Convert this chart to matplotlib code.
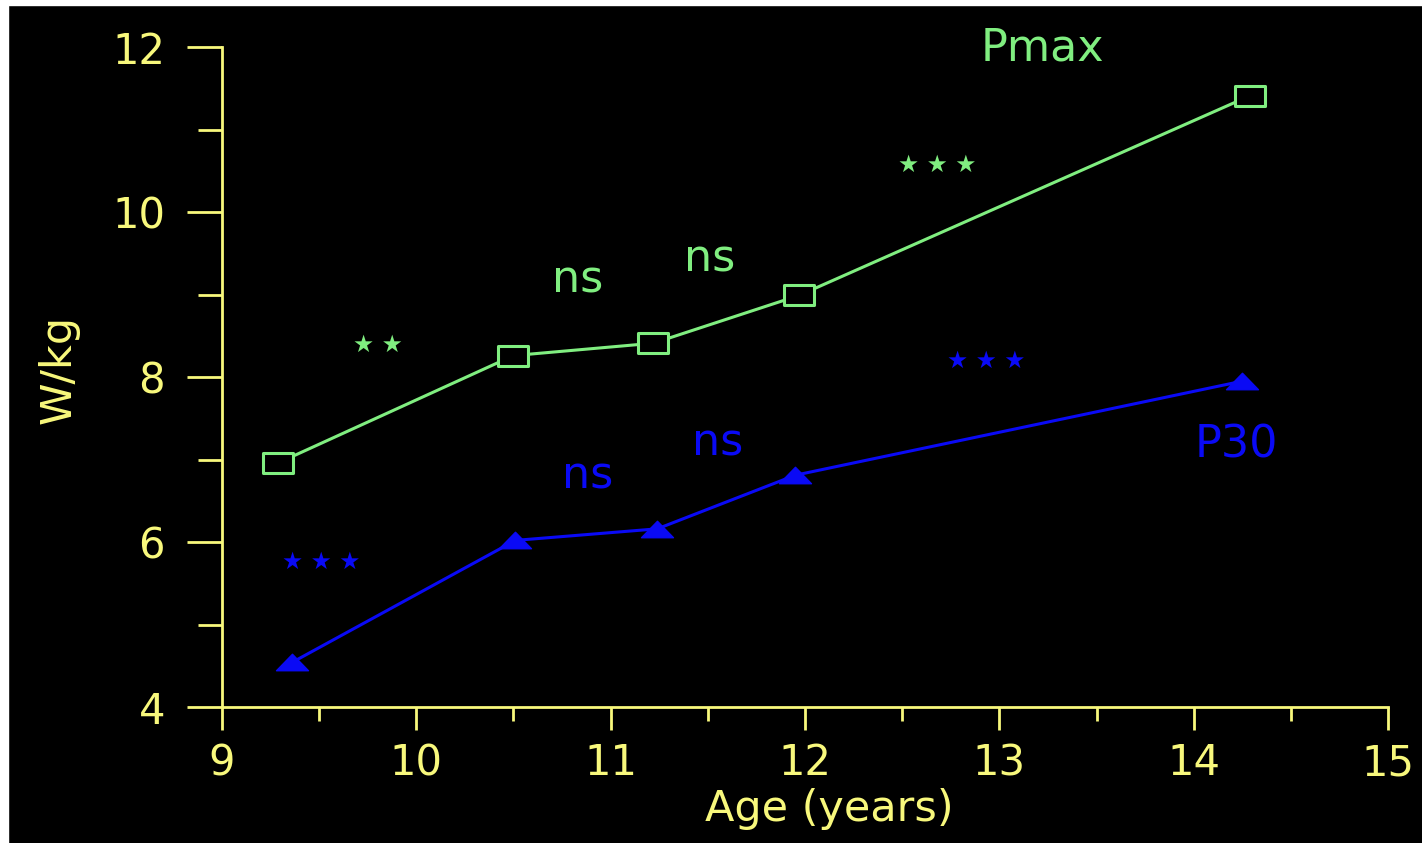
import matplotlib
matplotlib.use("Agg")
import matplotlib.pyplot as plt
from matplotlib.path import Path
from matplotlib.patches import Rectangle
from matplotlib.ticker import MultipleLocator

# mean power per body mass for each age group
pmax_age = [9.29, 10.50, 11.22, 11.97, 14.29]
pmax_wkg = [6.96, 8.26, 8.41, 8.99, 11.41]
p30_age = [9.36, 10.51, 11.24, 11.95, 14.25]
p30_wkg = [4.54, 6.02, 6.16, 6.81, 7.95]

# significance between consecutive groups: (label, x, baseline y)
pmax_sig = [("★ ★", 9.80, 8.30), ("ns", 10.83, 9.02), ("ns", 11.51, 9.28), ("★ ★ ★", 12.68, 10.49)]
p30_sig = [("★ ★ ★", 9.51, 5.68), ("ns", 10.88, 6.65), ("ns", 11.55, 7.05), ("★ ★ ★", 12.93, 8.11)]

YELLOW = "#f8f87c"
GREEN = "#80ee80"
BLUE = "#0a0af5"

plt.rcParams["font.family"] = ["DejaVu Sans"]

fig = plt.figure(figsize=(14.22, 8.43), dpi=100, facecolor="black")
ax = fig.add_axes([0.1561, 0.1613, 0.8200, 0.7829], facecolor="black")

# thin white margin on top and left
fig.add_artist(Rectangle((0, 1 - 5 / 843), 1, 5 / 843, transform=fig.transFigure, color="white", zorder=10))
fig.add_artist(Rectangle((0, 0), 8 / 1422, 1, transform=fig.transFigure, color="white", zorder=10))

box = Path([(-1.58, -1), (1.58, -1), (1.58, 1), (-1.58, 1), (-1.58, -1)],
           [Path.MOVETO, Path.LINETO, Path.LINETO, Path.LINETO, Path.CLOSEPOLY])
tri = Path([(-1, -0.515), (1, -0.515), (0, 0.515), (-1, -0.515)],
           [Path.MOVETO, Path.LINETO, Path.LINETO, Path.CLOSEPOLY])

ax.plot(pmax_age, pmax_wkg, color=GREEN, linewidth=2.2, marker=box, markersize=22,
        markerfacecolor="black", markeredgecolor=GREEN, markeredgewidth=2.2, clip_on=False, zorder=3)
ax.plot(p30_age, p30_wkg, color=BLUE, linewidth=2.2, marker=tri, markersize=23,
        markerfacecolor=BLUE, markeredgecolor=BLUE, markeredgewidth=1, clip_on=False, zorder=3)

for label, x, y in pmax_sig:
    ax.text(x, y, label, color=GREEN, ha="center", va="baseline",
            fontsize=32 if label == "ns" else 17, clip_on=False)
for label, x, y in p30_sig:
    ax.text(x, y, label, color=BLUE, ha="center", va="baseline",
            fontsize=32 if label == "ns" else 17, clip_on=False)

ax.text(13.22, 11.84, "Pmax", color=GREEN, fontsize=32, ha="center", va="baseline", clip_on=False)
ax.text(14.22, 7.02, "P30", color=BLUE, fontsize=32, ha="center", va="baseline", clip_on=False)

ax.set_xlim(9, 15)
ax.set_ylim(4, 12)
ax.xaxis.set_major_locator(MultipleLocator(1))
ax.xaxis.set_minor_locator(MultipleLocator(0.5))
ax.yaxis.set_major_locator(MultipleLocator(2))
ax.yaxis.set_minor_locator(MultipleLocator(1))

for side in ["top", "right"]:
    ax.spines[side].set_visible(False)
for side in ["left", "bottom"]:
    ax.spines[side].set_color(YELLOW)
    ax.spines[side].set_linewidth(2)

ax.tick_params(axis="both", which="both", direction="out", color=YELLOW, width=2,
               labelcolor=YELLOW, labelsize=30)
ax.tick_params(axis="y", which="major", length=25, pad=16)
ax.tick_params(axis="y", which="minor", length=17)
ax.tick_params(axis="x", which="major", length=16.5, pad=9)
ax.tick_params(axis="x", which="minor", length=10)

ax.set_xlabel("Age (years)", color=YELLOW, fontsize=31)
ax.xaxis.set_label_coords(0.5206, -0.123)
ax.set_ylabel("W/kg", color=YELLOW, fontsize=31)
ax.yaxis.set_label_coords(-0.1218, 0.512)

fig.savefig("out.png", dpi=100, facecolor="black")
